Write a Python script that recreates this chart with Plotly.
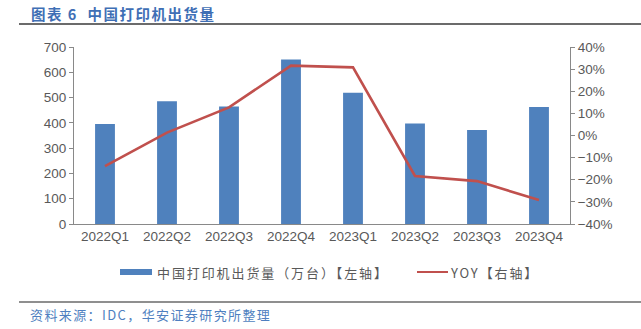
import plotly.graph_objects as go

categories = ["2022Q1", "2022Q2", "2022Q3", "2022Q4", "2023Q1", "2023Q2", "2023Q3", "2023Q4"]
shipments = [395, 485, 465, 651, 519, 397, 372, 463]
yoy = [-0.138, 0.013, 0.127, 0.316, 0.308, -0.183, -0.206, -0.292]

bar_name = "中国打印机出货量（万台）【左轴】"
line_name = "YOY【右轴】"
title_text = "图表 6  中国打印机出货量"
source_text = "资料来源：IDC，华安证券研究所整理"

BAR_COLOR = "#4F81BD"
LINE_COLOR = "#C0504D"
AXIS_COLOR = "#898989"
TICK_COLOR = "#595959"
TITLE_COLOR = "#3F6FB5"
CJK = "Noto Sans CJK SC"
LAT = "Liberation Sans, Arial, sans-serif"

fig = go.Figure()
fig.add_trace(go.Bar(x=categories, y=shipments, name=bar_name, marker_color=BAR_COLOR,
                     marker_line_width=0, width=0.32, yaxis="y"))
fig.add_trace(go.Scatter(x=categories, y=yoy, name=line_name, mode="lines",
                         line=dict(color=LINE_COLOR, width=2.6), yaxis="y2"))

L, R, T, B = 74, 71, 47, 105
W, H = 641, 329
pw = W - L - R
ph = H - T - B

def px(x):
    return (x - L) / pw

def py(y):
    return (H - B - y) / ph

def spaced(s, sp):
    return '<span style="letter-spacing:%.1fpx">%s</span>' % (sp, s)

fig.update_layout(
    width=W, height=H,
    margin=dict(l=L, r=R, t=T, b=B),
    paper_bgcolor="white", plot_bgcolor="white",
    showlegend=False,
    bargap=0.68,
    xaxis=dict(showline=True, linecolor=AXIS_COLOR, linewidth=1, ticks="",
               tickfont=dict(family=LAT, size=13.5, color=TICK_COLOR), showgrid=False),
    yaxis=dict(range=[0, 700], dtick=100, showline=True, linecolor=AXIS_COLOR, linewidth=1,
               ticks="outside", ticklen=4, tickcolor=AXIS_COLOR, showgrid=False, zeroline=False,
               tickfont=dict(family=LAT, size=13.5, color=TICK_COLOR)),
    yaxis2=dict(range=[-0.4, 0.4], dtick=0.1, tickformat=".0%", overlaying="y", side="right",
                showline=True, linecolor=AXIS_COLOR, linewidth=1, ticks="outside", ticklen=4,
                tickcolor=AXIS_COLOR, showgrid=False, zeroline=False,
                tickfont=dict(family=LAT, size=13.5, color=TICK_COLOR)),
)

shapes = [
    dict(type="line", xref="paper", yref="paper", x0=px(19), x1=px(641), y0=py(24), y1=py(24),
         line=dict(color="#3A3A3A", width=1.5)),
    dict(type="line", xref="paper", yref="paper", x0=px(19), x1=px(641), y0=py(302), y1=py(302),
         line=dict(color="#6A6A6A", width=1.5)),
    dict(type="rect", xref="paper", yref="paper", x0=px(120), x1=px(152), y0=py(275), y1=py(269),
         fillcolor=BAR_COLOR, line=dict(width=0)),
    dict(type="line", xref="paper", yref="paper", x0=px(417), x1=px(448), y0=py(272), y1=py(272),
         line=dict(color=LINE_COLOR, width=2)),
]
fig.update_layout(shapes=shapes)

annotations = [
    dict(text="<b>" + spaced(title_text, 1.5) + "</b>", xref="paper", yref="paper", x=px(29), y=py(13),
         xanchor="left", yanchor="middle", showarrow=False,
         font=dict(family=CJK, size=14.5, color=TITLE_COLOR)),
    dict(text=spaced(bar_name, 1.9), xref="paper", yref="paper", x=px(155), y=py(272),
         xanchor="left", yanchor="middle", showarrow=False,
         font=dict(family=CJK, size=13, color=TICK_COLOR)),
    dict(text=spaced(line_name, 1.9), xref="paper", yref="paper", x=px(448), y=py(272),
         xanchor="left", yanchor="middle", showarrow=False,
         font=dict(family=CJK, size=13, color=TICK_COLOR)),
    dict(text=spaced(source_text, 1.4), xref="paper", yref="paper", x=px(28), y=py(314),
         xanchor="left", yanchor="middle", showarrow=False,
         font=dict(family=CJK, size=13, color="#4F7FC0")),
]
fig.update_layout(annotations=annotations)

fig.write_html("out.html")
